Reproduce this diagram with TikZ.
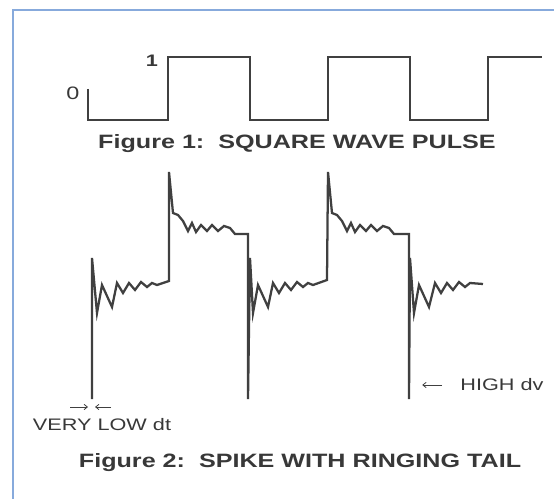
\documentclass[tikz,border=0pt]{standalone}
\usepackage{fontspec}
\setmainfont{Liberation Sans}[FakeStretch=1.3]
\usepackage{xcolor}
\usepackage{tikz}
\usetikzlibrary{positioning,arrows.meta}
\definecolor{frameblue}{RGB}{135,170,220}
\tikzset{
  wave/.style={line width=1.7pt,black!75,line join=miter},
  caption/.style={font=\bfseries\fontsize{14.5}{16}\selectfont,text=black!78,anchor=base,inner sep=0pt},
  note/.style={font=\fontsize{12.5}{14}\selectfont,text=black!78,inner sep=0pt},
  pointer/.style={-{Straight Barb[length=2.5pt,width=4pt]},line width=0.6pt,black!75},
}

\begin{document}
\begin{tikzpicture}[x=0.75pt,y=-0.75pt]
  \useasboundingbox (0,0) rectangle (554,499);
  \draw[frameblue,line width=1.5pt] (13,499) -- (13,10) -- (554,10);
  % square wave
  \draw[wave] (88,89) -- (88,120) -- (168,120) -- (168,57) -- (250,57) -- (250,120) -- (328,120)
    -- (328,57) -- (410,57) -- (410,120) -- (488,120) -- (488,57) -- (542,57);
  \node[note,font=\fontsize{13.5}{15}\selectfont] (zero) at (73,93) {0};
  \node[note,font=\bfseries\fontsize{12.5}{14}\selectfont] (one) at (152,61) {1};
  \node[caption] (fig1) at (297,149) {Figure 1:\ \ SQUARE WAVE PULSE};
  % spike with ringing
  \draw[wave] (92,399) -- (92,258) -- (97,313) -- (102,285) -- (112,307) -- (117,283) -- (123,293)
    -- (129,283) -- (135,290) -- (141,282) -- (147,287) -- (152,283) -- (157,285) -- (169,281)
    -- (169,172) -- (173,213) -- (178,215) -- (183,221) -- (188,231) -- (192,223) -- (196,232)
    -- (201,225) -- (207,231) -- (212,225) -- (218,231) -- (224,226) -- (230,228) -- (235,234)
    -- (248,234) -- (248,399) -- (250,258) -- (253,313) -- (258,285) -- (268,307) -- (273,283)
    -- (279,293) -- (285,283) -- (291,290) -- (297,282) -- (303,287) -- (308,283) -- (313,285)
    -- (327,280) -- (328,172) -- (332,213) -- (337,215) -- (342,221) -- (347,231) -- (351,223)
    -- (355,232) -- (360,225) -- (366,231) -- (371,225) -- (377,231) -- (383,226) -- (389,228)
    -- (394,234) -- (409,234) -- (409,399) -- (410,258) -- (414,313) -- (419,285) -- (429,307)
    -- (435,283) -- (441,293) -- (447,283) -- (453,290) -- (459,282) -- (465,287) -- (470,283)
    -- (483,284);
  \coordinate (dt1) at (70,407);
  \coordinate (dt2) at (88,407);
  \coordinate (dt3) at (111,407);
  \coordinate (dt4) at (95,407);
  \draw[pointer] (dt1) -- (dt2);
  \draw[pointer] (dt3) -- (dt4);
  \node[note] (lowdt) at (102,425) {VERY LOW dt};
  \node[note] (highdv) at (502,385) {HIGH dv};
  \draw[pointer] ([xshift=-13.5pt]highdv.west) -- ([xshift=-28.5pt]highdv.west);
  \node[caption] (fig2) at (300,467) {Figure 2:\ \ SPIKE WITH RINGING TAIL};
\end{tikzpicture}
\end{document}
